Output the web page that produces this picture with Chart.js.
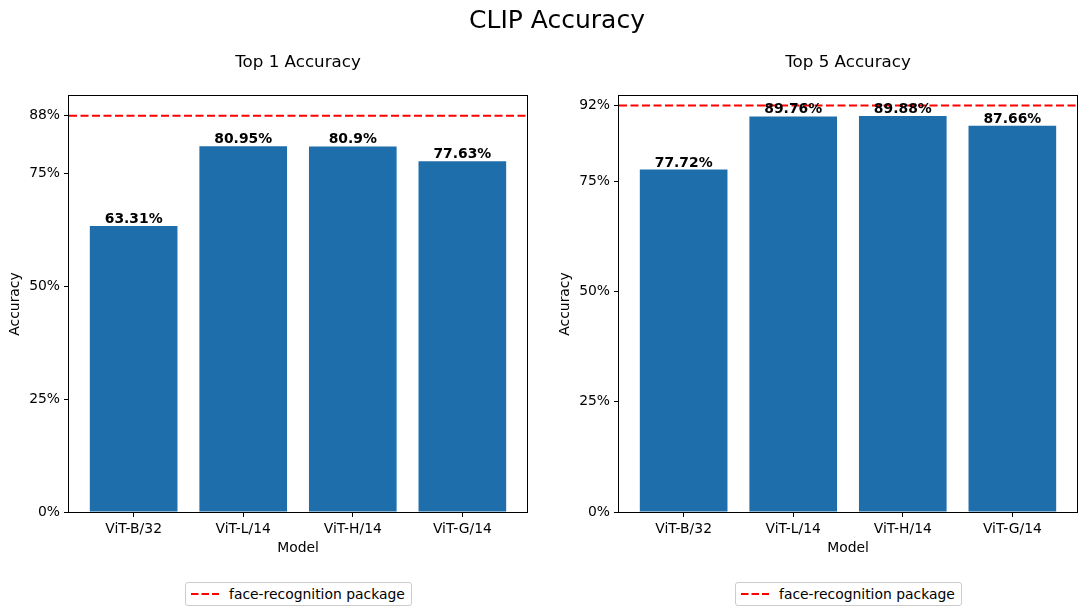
<!DOCTYPE html>
<html>
<head>
<meta charset="utf-8">
<script src="https://cdn.jsdelivr.net/npm/chart.js@4"></script>
<style>
  body { margin: 0; background: #fff; font-family: "DejaVu Sans", sans-serif; }
  #fig { position: relative; width: 1085px; height: 615px; overflow: hidden; }
  canvas { position: absolute; top: 0; }
  .title { position: absolute; transform: translateX(-50%); white-space: nowrap; color: #000; }
  #suptitle { left: 557px; top: 0; font-size: 25px; line-height: 40px; }
  .sub { top: 50px; font-size: 16.7px; line-height: 22px; }
  .legend { position: absolute; top: 582px; height: 22px; border: 1px solid #cccccc;
            border-radius: 3px; background: #fff; display: flex; align-items: center;
            font-size: 13.9px; color: #000; white-space: nowrap; padding: 0 6px 0 5px; }
  .legend svg { margin-right: 10px; }
</style>
</head>
<body>
<div id="fig">
  <canvas id="top1" width="545" height="559" style="left:0px"></canvas>
  <canvas id="top5" width="535" height="559" style="left:550px"></canvas>
  <div class="title" id="suptitle">CLIP Accuracy</div>
  <div class="title sub" id="title1" style="left:298px"></div>
  <div class="title sub" id="title5" style="left:848px"></div>
  <div class="legend" id="legend1" style="left:185px"></div>
  <div class="legend" id="legend5" style="left:735px"></div>
</div>
<script>
const models = ["ViT-B/32", "ViT-L/14", "ViT-H/14", "ViT-G/14"];
const top1 = [63.31, 80.95, 80.9, 77.63];
const top5 = [77.72, 89.76, 89.88, 87.66];
const faceTop1 = 87.68;
const faceTop5 = 92.26;
const yMaxTop1 = 92.06;
const yMaxTop5 = 94.4;
const baseTicks = [0, 25, 50, 75];
const refLabel = "face-recognition package";

Chart.defaults.font.family = "DejaVu Sans";
Chart.defaults.color = "#000";

const barColor = "#1f6eac";
const xMin = -0.59, xMax = 3.59;

// bold value labels above the bars
const valueLabels = {
    id: "valueLabels",
    afterDatasetsDraw(chart) {
        const ctx = chart.ctx;
        const meta = chart.getDatasetMeta(0);
        const vals = chart.data.datasets[0].data;
        ctx.save();
        ctx.font = "bold 13.9px 'DejaVu Sans'";
        ctx.fillStyle = "#000";
        ctx.textAlign = "center";
        ctx.textBaseline = "alphabetic";
        meta.data.forEach((bar, i) => {
            ctx.fillText(vals[i].y + "%", bar.x, bar.y - 3);
        });
        ctx.restore();
    }
};

// full axes frame like matplotlib spines
const frame = {
    id: "frame",
    afterDraw(chart) {
        const a = chart.chartArea;
        const ctx = chart.ctx;
        ctx.save();
        ctx.strokeStyle = "#000";
        ctx.lineWidth = 1;
        ctx.strokeRect(Math.round(a.left) - 0.5, Math.round(a.top) - 0.5,
                       Math.round(a.right - a.left) + 1, Math.round(a.bottom - a.top) + 1);
        ctx.restore();
    }
};

function makeChart(id, titleId, title, values, refValue, yMax, rightPad) {
    document.getElementById(titleId).textContent = title;
    const ctx = document.getElementById(id).getContext("2d");
    return new Chart(ctx, {
        data: {
            datasets: [
                {
                    type: "bar",
                    label: "accuracy",
                    data: values.map((v, i) => ({ x: i, y: v })),
                    backgroundColor: barColor,
                    borderWidth: 0,
                    barPercentage: 0.8,
                    categoryPercentage: 1.0,
                    order: 2
                },
                {
                    type: "line",
                    label: refLabel,
                    data: [{ x: xMin, y: refValue }, { x: xMax, y: refValue }],
                    borderColor: "#ff0000",
                    borderWidth: 2,
                    borderDash: [8, 3.5],
                    pointRadius: 0,
                    fill: false,
                    clip: 0,
                    order: 1
                }
            ]
        },
        options: {
            responsive: false,
            animation: false,
            layout: { padding: { left: 0, right: rightPad, top: 96, bottom: 0 } },
            plugins: {
                legend: { display: false },
                tooltip: { enabled: false }
            },
            scales: {
                x: {
                    type: "linear",
                    min: xMin,
                    max: xMax,
                    offset: false,
                    afterBuildTicks: axis => { axis.ticks = models.map((m, i) => ({ value: i })); },
                    afterFit: axis => { axis.height = 47; },
                    ticks: {
                        callback: v => models[v],
                        font: { size: 13.9 },
                        color: "#000",
                        padding: 4,
                        maxRotation: 0,
                        autoSkip: false
                    },
                    grid: { offset: false, drawOnChartArea: false, drawTicks: true, tickLength: 5, tickColor: "#000" },
                    border: { display: false },
                    title: { display: true, text: "Model", font: { size: 13.9 }, color: "#000",
                             padding: { top: 0, bottom: 2 } }
                },
                y: {
                    type: "linear",
                    min: 0,
                    max: yMax,
                    afterBuildTicks: axis => {
                        axis.ticks = baseTicks.concat([refValue]).map(v => ({ value: v }));
                    },
                    afterFit: axis => { axis.width = 69; },
                    ticks: {
                        callback: v => Math.round(v) + "%",
                        font: { size: 13.9 },
                        color: "#000",
                        padding: 4
                    },
                    grid: { drawOnChartArea: false, drawTicks: true, tickLength: 5, tickColor: "#000" },
                    border: { display: false },
                    title: { display: true, text: "Accuracy", font: { size: 13.9 }, color: "#000",
                             padding: { top: 7, bottom: 0 } }
                }
            }
        },
        plugins: [valueLabels, frame]
    });
}

makeChart("top1", "title1", "Top 1 Accuracy", top1, faceTop1, yMaxTop1, 18);
makeChart("top5", "title5", "Top 5 Accuracy", top5, faceTop5, yMaxTop5, 8);

function makeLegend(id) {
    const el = document.getElementById(id);
    el.innerHTML = '<svg width="28" height="4"><line x1="0" y1="2" x2="28" y2="2" stroke="#ff0000" ' +
        'stroke-width="2" stroke-dasharray="7.5 3"/></svg><span></span>';
    el.querySelector("span").textContent = refLabel;
}
makeLegend("legend1");
makeLegend("legend5");
</script>
</body>
</html>
